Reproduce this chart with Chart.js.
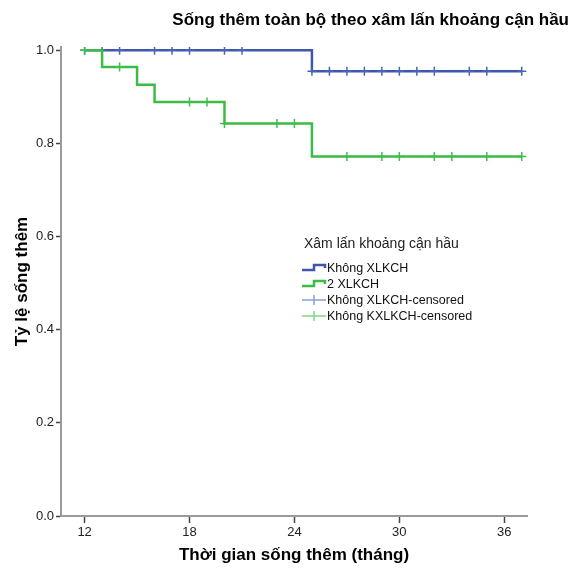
<!DOCTYPE html>
<html>
<head>
<meta charset="utf-8">
<script src="https://cdn.jsdelivr.net/npm/chart.js@4.4.1/dist/chart.umd.min.js"></script>
<style>
  html, body { margin: 0; padding: 0; background: #ffffff; }
  #wrap { width: 578px; height: 568px; position: relative; }
</style>
</head>
<body>
<div id="wrap"><canvas id="c" width="578" height="568"></canvas></div>
<script>
// ---- Data ----
const chartTitle = "Sống thêm toàn bộ theo xâm lấn khoảng cận hầu";
const xAxisTitle = "Thời gian sống thêm (tháng)";
const yAxisTitle = "Tỷ lệ sống thêm";
const legendTitle = "Xâm lấn khoảng cận hầu";
const seriesNames = ["Không XLKCH", "2 XLKCH", "Không XLKCH-censored", "Không KXLKCH-censored"];

const xTicks = [12, 18, 24, 30, 36];
const yTicks = [0.0, 0.2, 0.4, 0.6, 0.8, 1.0];

// Step curves (event times and survival after each event)
const blueTimes = [12, 25, 37];
const blueSurv  = [1.0, 0.955, 0.955];
const greenTimes = [12, 13, 15, 16, 20, 25, 37];
const greenSurv  = [1.0, 0.964, 0.926, 0.889, 0.843, 0.772, 0.772];

// Censored observations
const blueCensorTimes = [12, 13, 14, 16, 17, 18, 20, 21, 25, 26, 27, 28, 29, 30, 31, 32, 34, 35, 37];
const blueCensorSurv  = [1, 1, 1, 1, 1, 1, 1, 1, 0.955, 0.955, 0.955, 0.955, 0.955, 0.955, 0.955, 0.955, 0.955, 0.955, 0.955];
const greenCensorTimes = [12, 14, 18, 19, 20, 23, 24, 27, 29, 30, 32, 33, 35, 37];
const greenCensorSurv  = [1, 0.964, 0.889, 0.889, 0.843, 0.843, 0.843, 0.772, 0.772, 0.772, 0.772, 0.772, 0.772, 0.772];

// ---- Styles ----
const BLUE = '#3d57ad';
const GREEN = '#3cbc46';
const BLUE_C = '#4a64b6';
const GREEN_C = '#40be4a';
const BLUE_L = '#8d9edb';
const GREEN_L = '#7fd886';
const FONT = "'Liberation Sans', Arial, sans-serif";

const pts = (xs, ys) => xs.map((x, i) => ({ x: x, y: ys[i] }));

const titlePlugin = {
  id: 'customTexts',
  afterDraw(chart) {
    const ctx = chart.ctx;
    ctx.save();
    // Chart title
    ctx.fillStyle = '#000';
    ctx.font = "bold 17px " + FONT;
    ctx.textAlign = 'right';
    ctx.textBaseline = 'middle';
    ctx.fillText(chartTitle, 569, 20);

    // Legend
    const lx = 302, lw = 24;
    ctx.textAlign = 'left';
    ctx.font = "14px " + FONT;
    ctx.fillStyle = '#222';
    ctx.fillText(legendTitle, 304, 244);

    ctx.font = "12.5px " + FONT;
    const rows = [268, 284, 300, 316];
    const cols = [BLUE, GREEN];
    for (let i = 0; i < 2; i++) {
      const y = rows[i];
      ctx.strokeStyle = cols[i];
      ctx.lineWidth = 2.5;
      ctx.beginPath();
      ctx.moveTo(lx, y + 2);
      ctx.lineTo(lx + 12, y + 2);
      ctx.lineTo(lx + 12, y - 3);
      ctx.lineTo(lx + 23, y - 3);
      ctx.lineTo(lx + 23, y);
      ctx.stroke();
    }
    const lcols = [BLUE_L, GREEN_L];
    for (let i = 0; i < 2; i++) {
      const y = rows[i + 2];
      ctx.strokeStyle = lcols[i];
      ctx.lineWidth = 1.5;
      ctx.beginPath();
      ctx.moveTo(lx, y);
      ctx.lineTo(lx + lw, y);
      ctx.moveTo(lx + 12, y - 5);
      ctx.lineTo(lx + 12, y + 5);
      ctx.stroke();
    }
    ctx.fillStyle = '#111';
    for (let i = 0; i < 4; i++) {
      ctx.fillText(seriesNames[i], lx + 25, rows[i] + 1);
    }
    ctx.restore();
  }
};

new Chart(document.getElementById('c'), {
  type: 'line',
  data: {
    datasets: [
      {
        label: seriesNames[1] + ' censored',
        type: 'scatter',
        data: pts(greenCensorTimes, greenCensorSurv),
        pointStyle: 'cross',
        pointRadius: 4.5,
        borderColor: GREEN_C,
        backgroundColor: GREEN_C,
        pointBorderWidth: 1.5,
        showLine: false,
        order: 0
      },
      {
        label: seriesNames[1],
        data: pts(greenTimes, greenSurv),
        stepped: 'before',
        borderColor: GREEN,
        borderWidth: 2.5,
        pointRadius: 0,
        fill: false,
        order: 1
      },
      {
        label: seriesNames[0] + ' censored',
        type: 'scatter',
        data: pts(blueCensorTimes, blueCensorSurv),
        pointStyle: 'cross',
        pointRadius: 4.5,
        borderColor: BLUE_C,
        backgroundColor: BLUE_C,
        pointBorderWidth: 1.5,
        showLine: false,
        order: 2
      },
      {
        label: seriesNames[0],
        data: pts(blueTimes, blueSurv),
        stepped: 'before',
        borderColor: BLUE,
        borderWidth: 2.5,
        pointRadius: 0,
        fill: false,
        order: 3
      }
    ]
  },
  options: {
    responsive: false,
    animation: false,
    events: [],
    layout: { padding: { left: 0, right: 51, top: 47, bottom: 0 } },
    plugins: {
      legend: { display: false },
      title: { display: false },
      tooltip: { enabled: false }
    },
    scales: {
      x: {
        type: 'linear',
        min: 10.65,
        max: 37.3,
        afterBuildTicks: (s) => { s.ticks = xTicks.map(v => ({ value: v })); },
        afterFit: (s) => { s.height = 52; },
        ticks: {
          color: '#222',
          font: { family: FONT, size: 13 },
          padding: 2,
          maxRotation: 0,
          callback: (v) => String(v)
        },
        grid: { drawOnChartArea: false, tickLength: 7, tickColor: '#444', tickWidth: 1.5 },
        border: { color: '#9a9a9a', width: 2 },
        title: {
          display: true,
          text: xAxisTitle,
          color: '#000',
          font: { family: FONT, size: 17, weight: 'bold' },
          padding: { top: 0, bottom: 2 }
        }
      },
      y: {
        type: 'linear',
        min: 0,
        max: 1.007,
        afterBuildTicks: (s) => { s.ticks = yTicks.map(v => ({ value: v })); },
        afterFit: (s) => { s.width = 61; },
        ticks: {
          color: '#222',
          font: { family: FONT, size: 13 },
          padding: 2,
          callback: (v) => Number(v).toFixed(1)
        },
        grid: { drawOnChartArea: false, tickLength: 5, tickColor: '#444', tickWidth: 1.5 },
        border: { color: '#9a9a9a', width: 2 },
        title: {
          display: true,
          text: yAxisTitle,
          color: '#000',
          font: { family: FONT, size: 17, weight: 'bold' },
          padding: { top: 12, bottom: 0 }
        }
      }
    }
  },
  plugins: [titlePlugin]
});
</script>
</body>
</html>
